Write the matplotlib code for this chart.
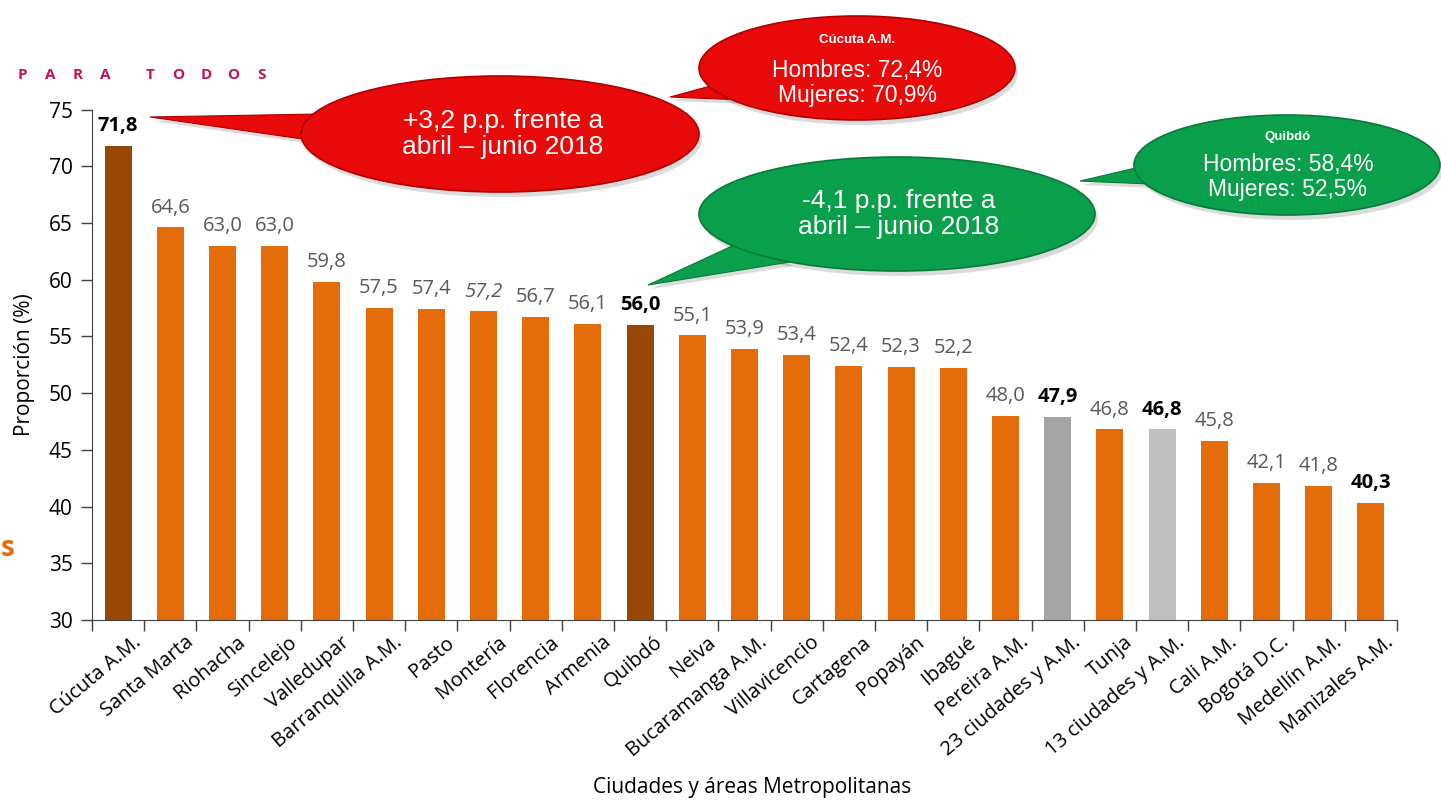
import matplotlib
matplotlib.use("Agg")
import matplotlib.pyplot as plt
import matplotlib.transforms as mtransforms
from matplotlib.patches import Ellipse, Polygon

# data
cities = ["Cúcuta A.M.", "Santa Marta", "Riohacha", "Sincelejo", "Valledupar",
          "Barranquilla A.M.", "Pasto", "Montería", "Florencia", "Armenia",
          "Quibdó", "Neiva", "Bucaramanga A.M.", "Villavicencio", "Cartagena",
          "Popayán", "Ibagué", "Pereira A.M.", "23 ciudades y A.M.", "Tunja",
          "13 ciudades y A.M.", "Cali A.M.", "Bogotá D.C.", "Medellín A.M.",
          "Manizales A.M."]
values = [71.8, 64.6, 63.0, 63.0, 59.8, 57.5, 57.4, 57.2, 56.7, 56.1, 56.0,
          55.1, 53.9, 53.4, 52.4, 52.3, 52.2, 48.0, 47.9, 46.8, 46.8, 45.8,
          42.1, 41.8, 40.3]
bold_labels = ["Cúcuta A.M.", "Quibdó", "23 ciudades y A.M.",
               "13 ciudades y A.M.", "Manizales A.M."]
italic_labels = ["Montería"]

ORANGE = "#E46C0A"
BROWN = "#974706"
GREY_23 = "#A5A5A5"
GREY_13 = "#BFBFBF"
RED = "#E8090A"
GREEN = "#0AA04B"
SPECIAL = {"Cúcuta A.M.": BROWN, "Quibdó": BROWN,
           "23 ciudades y A.M.": GREY_23, "13 ciudades y A.M.": GREY_13}

plt.rcParams["font.family"] = ["Open Sans", "DejaVu Sans"]

fig = plt.figure(figsize=(14.41, 8.02), dpi=100)
ax = fig.add_axes([92 / 1441, 1 - 620 / 802, 1305 / 1441, 510.5 / 802])

x = range(len(cities))
colors = [SPECIAL.get(c, ORANGE) for c in cities]
ax.bar(x, values, width=0.52, color=colors, zorder=2)

for i, (c, v) in enumerate(zip(cities, values)):
    txt = f"{v:.1f}".replace(".", ",")
    kw = dict(color="#595959", fontweight="normal", style="normal")
    if c in bold_labels:
        kw = dict(color="black", fontweight="bold", style="normal")
    elif c in italic_labels:
        kw["style"] = "italic"
    ax.annotate(txt, (i, v), xytext=(0, 7), textcoords="offset points",
                ha="center", va="bottom", fontsize=14.5, **kw)

ax.set_xlim(-0.5, len(cities) - 0.5)
ax.set_ylim(30, 75)
ax.set_yticks(range(30, 80, 5))
ax.tick_params(axis="y", labelsize=15, length=8, width=1, color="#404040",
               labelcolor="black", pad=6)
ax.set_xticks(list(x))
ax.set_xticklabels(cities, rotation=40, ha="right", rotation_mode="anchor",
                   fontsize=14.5)
ax.set_xticks([i + 0.5 for i in range(-1, len(cities))], minor=True)
ax.tick_params(axis="x", which="major", length=0, pad=9, labelcolor="black")
ax.tick_params(axis="x", which="minor", length=8, width=1, color="#404040")
shift = mtransforms.ScaledTranslation(14 / 100, 0, fig.dpi_scale_trans)
for lab in ax.get_xticklabels():
    lab.set_transform(lab.get_transform() + shift)
for s in ("top", "right"):
    ax.spines[s].set_visible(False)
for s in ("left", "bottom"):
    ax.spines[s].set_color("#404040")
ax.set_ylabel("Proporción (%)", fontsize=15, labelpad=10)
fig.text(752 / 1441, 1 - 787 / 802, "Ciudades y áreas Metropolitanas",
         ha="center", va="center", fontsize=15)

# header fragment
header = "PARA TODOS"
hx = 22
for ch in header:
    if ch != " ":
        fig.text(hx / 1441, 1 - 75 / 802, ch, color="#C0135A", fontsize=11,
                 fontweight="bold", ha="center", va="center")
    hx += 27.8 if ch != " " else 17
fig.text(1 / 1441, 1 - 548 / 802, "s", color=ORANGE, fontsize=20,
         fontweight="bold", ha="left", va="center")

# callouts drawn in pixel coordinates on an overlay
ov = fig.add_axes([0, 0, 1, 1], zorder=5)
ov.set_xlim(0, 1441)
ov.set_ylim(802, 0)
ov.axis("off")
ov.patch.set_alpha(0)


def bubble(cx, cy, w, h, tail, color, edge):
    shadow = "#00000024"
    ov.add_patch(Polygon([(p[0] + 3, p[1] + 4) for p in tail], closed=True,
                         facecolor=shadow, edgecolor="none"))
    ov.add_patch(Ellipse((cx + 3, cy + 5), w, h, facecolor=shadow,
                         edgecolor="none"))
    ov.add_patch(Polygon(tail, closed=True, facecolor=color, edgecolor=edge,
                         linewidth=0.8))
    ov.add_patch(Ellipse((cx, cy), w, h, facecolor=color, edgecolor=edge,
                         linewidth=1.2))
    ov.add_patch(Polygon(tail[1:], closed=True, facecolor=color,
                         edgecolor="none"))


CALLOUT_FONT = ["Liberation Sans", "DejaVu Sans"]

bubble(500, 134, 398, 116, [(150, 117), (318, 114), (330, 143)], RED, "#B00000")
ov.text(503, 134, "+3,2 p.p. frente a\nabril – junio 2018", color="white",
        fontsize=19, ha="center", va="center", family=CALLOUT_FONT,
        linespacing=1.15)

bubble(857, 68, 316, 104, [(670, 97), (725, 82), (745, 100)], RED, "#B00000")
ov.text(857, 40, "Cúcuta A.M.", color="white", fontsize=9.5, fontweight="bold",
        ha="center", va="center", family=CALLOUT_FONT)
ov.text(857, 83, "Hombres: 72,4%\nMujeres: 70,9%", color="white", fontsize=16.5,
        ha="center", va="center", family=CALLOUT_FONT, linespacing=1.1)

bubble(897, 214, 396, 114, [(648, 285), (745, 240), (790, 262)], GREEN, "#067A38")
ov.text(899, 214, "-4,1 p.p. frente a\nabril – junio 2018", color="white",
        fontsize=19, ha="center", va="center", family=CALLOUT_FONT,
        linespacing=1.15)

bubble(1287, 165, 306, 100, [(1080, 181), (1140, 167), (1150, 184)], GREEN, "#067A38")
ov.text(1288, 137, "Quibdó", color="white", fontsize=9.5, fontweight="bold",
        ha="center", va="center", family=CALLOUT_FONT)
ov.text(1288, 177, "Hombres: 58,4%\nMujeres: 52,5%", color="white", fontsize=16.5,
        ha="center", va="center", family=CALLOUT_FONT, linespacing=1.1)

fig.savefig("out.png", dpi=100, facecolor="white")
